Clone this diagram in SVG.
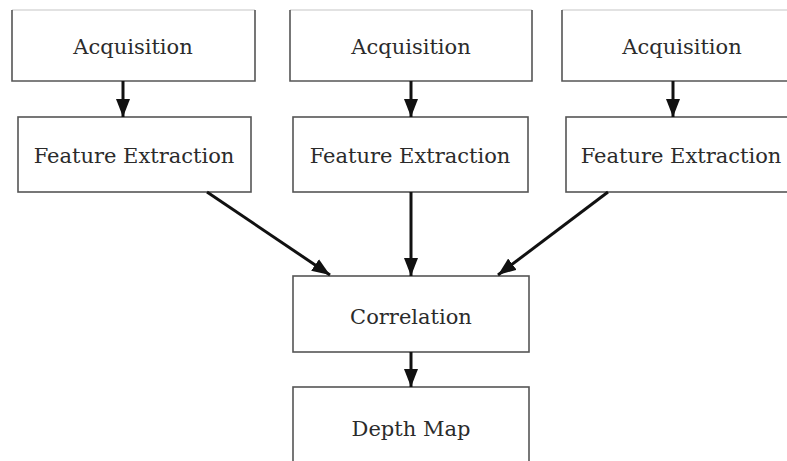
<svg xmlns="http://www.w3.org/2000/svg" width="787" height="461" viewBox="0 0 787 461">
<style>
.box{fill:#fff;stroke:#555;stroke-width:1.6}
.open{fill:none;stroke:#555;stroke-width:1.6}
.faint{stroke:#d8d8d8;stroke-width:1.6}
.lbl{font-family:"DejaVu Serif",serif;font-size:21px;fill:#2b2b2b;text-anchor:middle}
.conn line{stroke:#111;stroke-width:3;marker-end:url(#ah)}
</style>
<defs>
<marker id="ah" markerUnits="userSpaceOnUse" markerWidth="18" markerHeight="14" refX="18" refY="7" orient="auto">
<path d="M0,0 L18,7 L0,14 Z" fill="#111"/>
</marker>
</defs>
<rect width="787" height="461" fill="#fff"/>
<g id="acq1"><rect x="12" y="10" width="243" height="71" fill="#fff"/><line class="faint" x1="12" y1="10" x2="255" y2="10"/><path class="open" d="M12,10 V81 H255 V10"/><text class="lbl" x="133" y="54">Acquisition</text></g>
<g id="acq2"><rect x="290" y="10" width="242" height="71" fill="#fff"/><line class="faint" x1="290" y1="10" x2="532" y2="10"/><path class="open" d="M290,10 V81 H532 V10"/><text class="lbl" x="411" y="54">Acquisition</text></g>
<g id="acq3"><rect x="562" y="10" width="240" height="71" fill="#fff"/><line class="faint" x1="562" y1="10" x2="787" y2="10"/><path class="open" d="M562,10 V81 H802"/><text class="lbl" x="682" y="54">Acquisition</text></g>
<g id="fe1"><rect class="box" x="18" y="117" width="233" height="75"/><text class="lbl" x="134" y="163">Feature Extraction</text></g>
<g id="fe2"><rect class="box" x="293" y="117" width="235" height="75"/><text class="lbl" x="410" y="163">Feature Extraction</text></g>
<g id="fe3"><rect class="box" x="566" y="117" width="230" height="75"/><text class="lbl" x="681" y="163">Feature Extraction</text></g>
<g id="corr"><rect class="box" x="293" y="276" width="236" height="76"/><text class="lbl" x="411" y="324">Correlation</text></g>
<g id="depth"><rect class="box" x="293" y="387" width="236" height="90"/><text class="lbl" x="411" y="436">Depth Map</text></g>
<g id="connectors" class="conn">
<line x1="123" y1="81" x2="123" y2="117"/>
<line x1="411" y1="81" x2="411" y2="117"/>
<line x1="673" y1="81" x2="673" y2="117"/>
<line x1="207" y1="192" x2="330" y2="275"/>
<line x1="411" y1="192" x2="411" y2="276"/>
<line x1="608" y1="192" x2="498" y2="275"/>
<line x1="411" y1="352" x2="411" y2="387"/>
</g>
</svg>
